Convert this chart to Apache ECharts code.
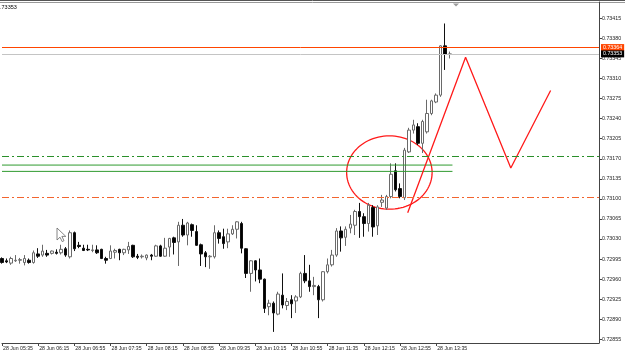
<!DOCTYPE html>
<html><head><meta charset="utf-8">
<script src="https://cdn.jsdelivr.net/npm/echarts@6/dist/echarts.min.js"></script>
<style>html,body{margin:0;padding:0;background:#fff}#c{width:625px;height:356px}</style>
</head><body><div id="c"></div>
<script>
// 5-minute bars, 28 Jun 05:35 .. 13:50
const opens = [0.72996,0.72992,0.72988,0.72992,0.72993,0.72989,0.72993,0.72989,0.73004,0.73002,
0.73005,0.73005,0.73007,0.73006,0.73013,0.72999,0.73041,0.73019,0.73014,0.73012,
0.73010,0.73011,0.73012,0.72996,0.72996,0.73007,0.73012,0.73006,0.73011,0.73019,
0.73000,0.72999,0.72997,0.73002,0.73000,0.73018,0.73000,0.73016,0.73032,0.73025,
0.73054,0.73037,0.73055,0.73043,0.73020,0.73006,0.72999,0.72999,0.73041,0.73034,
0.73025,0.73039,0.73047,0.73057,0.73013,0.72970,0.72992,0.72976,0.72960,0.72912,
0.72918,0.72899,0.72932,0.72914,0.72924,0.72922,0.72929,0.72970,0.72957,0.72947,
0.72947,0.72924,0.72973,0.72985,0.73002,0.73044,0.73033,0.73049,0.73054,0.73078,
0.73069,0.73057,0.73085,0.73053,0.73094,0.73084,0.73104,0.73149,0.73118,0.73102,
0.73182,0.73220,0.73226,0.73197,0.73217,0.73249,0.73269,0.73281,0.73367,0.73352];
const highs = [0.72998,0.72996,0.72999,0.73002,0.72997,0.73002,0.72996,0.73010,0.73014,0.73020,
0.73011,0.73010,0.73012,0.73020,0.73016,0.73045,0.73043,0.73025,0.73020,0.73020,
0.73020,0.73019,0.73013,0.72999,0.73019,0.73013,0.73013,0.73013,0.73025,0.73020,
0.73004,0.73003,0.73003,0.73004,0.73020,0.73020,0.73032,0.73032,0.73034,0.73060,
0.73065,0.73060,0.73057,0.73054,0.73022,0.73009,0.73002,0.73054,0.73045,0.73048,
0.73048,0.73054,0.73061,0.73060,0.73014,0.72993,0.72993,0.72996,0.72961,0.72924,
0.72921,0.72938,0.72970,0.72927,0.72932,0.72932,0.72973,0.73002,0.72985,0.72964,
0.72950,0.72974,0.72996,0.73011,0.73049,0.73052,0.73052,0.73072,0.73081,0.73093,
0.73075,0.73093,0.73089,0.73089,0.73107,0.73107,0.73162,0.73162,0.73127,0.73189,
0.73224,0.73238,0.73232,0.73238,0.73273,0.73273,0.73284,0.73368,0.73406,0.73357];
const lows = [0.72987,0.72988,0.72985,0.72990,0.72987,0.72984,0.72987,0.72987,0.72997,0.72999,
0.72999,0.73003,0.73003,0.73003,0.72999,0.72996,0.73009,0.73014,0.73009,0.73009,
0.73007,0.73004,0.72995,0.72987,0.72995,0.72996,0.72993,0.73002,0.73004,0.72997,
0.72995,0.72996,0.72993,0.72993,0.72999,0.72999,0.72999,0.72999,0.73003,0.72983,
0.73034,0.73019,0.73034,0.73018,0.72983,0.72981,0.72978,0.72996,0.73022,0.73013,
0.73014,0.73037,0.73031,0.73005,0.72962,0.72938,0.72956,0.72953,0.72901,0.72897,
0.72868,0.72897,0.72909,0.72906,0.72892,0.72901,0.72927,0.72953,0.72938,0.72932,
0.72892,0.72921,0.72970,0.72982,0.72999,0.73008,0.73018,0.73040,0.73037,0.73032,
0.73034,0.73043,0.73034,0.73037,0.73086,0.73081,0.73101,0.73113,0.73101,0.73098,
0.73180,0.73214,0.73194,0.73180,0.73214,0.73246,0.73267,0.73278,0.73325,0.73345];
const closes = [0.72989,0.72990,0.72996,0.72993,0.72994,0.72996,0.72989,0.73006,0.73000,0.73009,
0.73002,0.73009,0.73005,0.73012,0.73002,0.73041,0.73013,0.73017,0.73010,0.73011,
0.73011,0.73006,0.72996,0.72993,0.73009,0.73010,0.73006,0.73012,0.73017,0.72999,
0.72998,0.73000,0.73002,0.73000,0.73018,0.73000,0.73014,0.73031,0.73024,0.73054,
0.73037,0.73058,0.73045,0.73019,0.73004,0.72999,0.73000,0.73041,0.73031,0.73022,
0.73039,0.73047,0.73060,0.73014,0.72970,0.72992,0.72976,0.72960,0.72909,0.72918,
0.72901,0.72934,0.72915,0.72921,0.72917,0.72929,0.72970,0.72957,0.72947,0.72949,
0.72924,0.72973,0.72985,0.73002,0.73044,0.73032,0.73047,0.73056,0.73078,0.73069,
0.73057,0.73089,0.73051,0.73086,0.73098,0.73104,0.73143,0.73116,0.73104,0.73185,
0.73220,0.73229,0.73197,0.73235,0.73249,0.73271,0.73281,0.73367,0.73352,0.73353];

const xTickLabels = ['28 Jun 05:35','28 Jun 06:15','28 Jun 06:55','28 Jun 07:35','28 Jun 08:15',
'28 Jun 08:55','28 Jun 09:35','28 Jun 10:15','28 Jun 10:55','28 Jun 11:35','28 Jun 12:15',
'28 Jun 12:55','28 Jun 13:35'];
const yTicks = [0.72855,0.72890,0.72925,0.72960,0.72995,0.73030,0.73065,0.73100,0.73135,
0.73170,0.73205,0.73240,0.73275,0.73310,0.73345,0.73380,0.73415];

const askLevel = 0.73364;
const bidLevel = 0.73353;
const greenDashLevel = 0.73174;
const greenBandLevels = [0.73159, 0.73148];
const greenBandEnd = 99.6;
const orangeDashLevel = 0.73102;
const zigzagX = [89.7, 102.5, 112.5, 121.3];
const zigzagY = [0.73076, 0.73347, 0.73154, 0.73289];
const ellipseBox = [76.2, 95.1, 0.73082, 0.73210];
const headerText = '.73353';

const slotCount = 133;
const pad = n => (n < 10 ? '0' : '') + n;
const categories = [];
for (let i = 0; i < slotCount; i++) {
  const m = 5 * 60 + 35 + 5 * i;
  categories.push('28 Jun ' + pad(Math.floor(m / 60) % 24) + ':' + pad(m % 60));
}
const candleData = opens.map((o, i) => [o, closes[i], lows[i], highs[i]]);
const showTick = (idx) => idx % 8 === 0 && idx / 8 < xTickLabels.length;

const font = 'Liberation Sans, Arial, sans-serif';
const dashDot = [7, 3, 2, 3];
const priceLabel = (bg) => ({show: true, position: 'end', backgroundColor: bg, color: '#fff',
  fontSize: 5.3, padding: [1, 2, 1, 2], distance: 2, fontFamily: font});

const chart = echarts.init(document.getElementById('c'), null, {renderer: 'canvas'});
chart.setOption({
  animation: false,
  backgroundColor: '#fff',
  grid: {left: 0, right: 26, top: 2, bottom: 13, containLabel: false},
  xAxis: [{
    type: 'category', data: categories, boundaryGap: false,
    axisLine: {onZero: false, lineStyle: {color: '#444', width: 1}},
    axisTick: {interval: showTick, length: 3, lineStyle: {color: '#444'}},
    axisLabel: {interval: showTick, formatter: (v, idx) => xTickLabels[idx / 8] || '',
      align: 'left', fontSize: 5.2, color: '#222', margin: 3, fontFamily: font, padding: [0, 0, 0, 1]},
    splitLine: {show: false}
  }, {
    type: 'value', min: 0, max: slotCount - 1, show: false,
    axisLine: {onZero: false}
  }],
  yAxis: {
    type: 'value', position: 'right', min: 0.728486, max: 0.734435,
    axisLine: {show: true, onZero: false, lineStyle: {color: '#444'}},
    axisTick: {show: true, customValues: yTicks, length: 3, lineStyle: {color: '#444'}},
    axisLabel: {customValues: yTicks, formatter: v => v.toFixed(5), fontSize: 5.3,
      color: '#222', margin: 3, fontFamily: font},
    splitLine: {show: false}
  },
  series: [{
    type: 'candlestick', xAxisIndex: 0, data: candleData, barWidth: 3,
    itemStyle: {color: '#fff', color0: '#000', borderColor: '#6a6a6a', borderColor0: '#111', borderWidth: 1}
  }, {
    type: 'line', xAxisIndex: 1, symbol: 'none', silent: true,
    data: [[0, greenBandLevels[0]], [greenBandEnd, greenBandLevels[0]]],
    lineStyle: {color: '#2f9a2f', width: 1}
  }, {
    type: 'line', xAxisIndex: 1, symbol: 'none', silent: true,
    data: [[0, greenBandLevels[1]], [greenBandEnd, greenBandLevels[1]]],
    lineStyle: {color: '#2f9a2f', width: 1}
  }, {
    type: 'line', xAxisIndex: 1, symbol: 'none', silent: true,
    data: zigzagX.map((x, i) => [x, zigzagY[i]]),
    lineStyle: {color: '#ff1a1a', width: 1.3},
    markLine: {
      symbol: 'none', silent: true, animation: false, precision: 5,
      data: [
        {yAxis: askLevel, lineStyle: {color: '#FF4500', width: 1, type: 'solid'},
          label: Object.assign(priceLabel('#FF4500'), {formatter: askLevel.toFixed(5)})},
        {yAxis: bidLevel, lineStyle: {color: '#c4c4c4', width: 1, type: 'solid'},
          label: Object.assign(priceLabel('#000'), {formatter: bidLevel.toFixed(5)})},
        {yAxis: greenDashLevel, lineStyle: {color: '#2a8f2a', width: 1, type: dashDot}, label: {show: false}},
        {yAxis: orangeDashLevel, lineStyle: {color: '#F2642E', width: 1, type: dashDot}, label: {show: false}}
      ]
    }
  }, {
    type: 'custom', xAxisIndex: 1, silent: true, clip: false,
    data: [ellipseBox],
    renderItem: function (params, api) {
      const p1 = api.coord([api.value(0), api.value(3)]);
      const p2 = api.coord([api.value(1), api.value(2)]);
      const cx = (p1[0] + p2[0]) / 2, cy = (p1[1] + p2[1]) / 2;
      const rx = Math.abs(p2[0] - p1[0]) / 2, ry = Math.abs(p2[1] - p1[1]) / 2;
      const pts = [];
      for (let k = 0; k < 96; k++) {
        const a = k / 96 * Math.PI * 2;
        pts.push([cx + rx * Math.cos(a), cy + ry * Math.sin(a)]);
      }
      return {type: 'polygon', shape: {points: pts}, style: {fill: 'none', stroke: '#ff1a1a', lineWidth: 1.3}};
    }
  }],
  graphic: [
    {type: 'line', shape: {x1: 0, y1: 0.5, x2: 625, y2: 0.5}, style: {stroke: '#555', lineWidth: 1}},
    {type: 'line', shape: {x1: 0, y1: 2.5, x2: 625, y2: 2.5}, style: {stroke: '#999', lineWidth: 1}},
    {type: 'text', left: 0, top: 4, style: {text: headerText, fontSize: 5.5, fill: '#000', font: '5.5px ' + font}},
    {type: 'polygon', shape: {points: [[453, 3.5], [459, 3.5], [456, 6.5]]}, style: {fill: '#9a9a9a'}},
    {type: 'polygon', shape: {points: [[57, 228], [57, 240], [60, 237.2], [62.2, 241.6], [64, 240.7], [61.9, 236.4], [65.8, 236.4]]},
      style: {fill: '#fff', stroke: '#666', lineWidth: 0.8}}
  ]
});
</script>
</body></html>
